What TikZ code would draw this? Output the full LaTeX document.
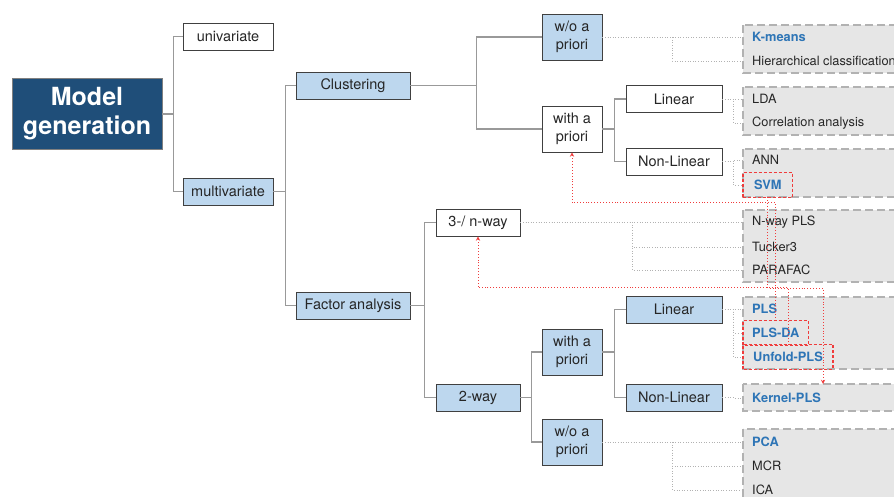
\documentclass[tikz,border=0pt]{standalone}
\usepackage{fontspec}
\setmainfont{TeX Gyre Heros}
\usetikzlibrary{arrows}
\definecolor{rootblue}{HTML}{1F4E79}
\definecolor{boxblue}{HTML}{BDD7EE}
\definecolor{keyblue}{HTML}{2E75B6}
\definecolor{grpgray}{HTML}{E6E6E6}
\definecolor{pickred}{HTML}{F03C3C}

\begin{document}
\begin{tikzpicture}[x=1pt,y=-1pt,
  box/.style={draw=black!75,line width=0.9pt,fill=white,text=black!85,align=center,inner sep=0pt,
    minimum height=27pt,font=\fontsize{14.5}{18}\selectfont},
  lit/.style={box,fill=boxblue},
  item/.style={anchor=west,inner xsep=9pt,inner ysep=0pt,minimum height=23pt,text=black!85,
    font=\fontsize{12.8}{14}\selectfont},
  key/.style={item,text=keyblue,font=\fontsize{12.8}{14}\selectfont\bfseries},
  pick/.style={draw=pickred,dash pattern=on 3pt off 2pt,line width=1.1pt},
  grp/.style={draw=black!30,fill=grpgray,line width=1.6pt,dash pattern=on 8pt off 4pt},
  fork/.style={draw=black!40,line width=1.2pt,to path={(\tikztostart.east) -- ++(#1,0) |- (\tikztotarget.west)}},
  twig/.style={draw=black!30,line width=0.6pt,dotted,to path={(\tikztostart.east) -- ++(#1,0) |- (\tikztotarget.west)}},
  link/.style={draw=pickred,line width=0.9pt,dotted,-stealth}]
  \clip (0,0) rectangle (894,497);

  \draw[grp] (743,25) rectangle (910,73);
  \draw[grp] (743,87) rectangle (910,135);
  \draw[grp] (743,149) rectangle (910,197);
  \draw[grp] (743,210) rectangle (910,282);
  \draw[grp] (743,297) rectangle (910,369);
  \draw[grp] (743,384) rectangle (910,411);
  \draw[grp] (743,429) rectangle (910,520);

  \node[box,fill=rootblue,text=white,draw=black!50,minimum width=150pt,minimum height=71pt,
    font=\fontsize{25}{29}\selectfont\bfseries] (root) at (87,114) {Model\\generation};
  \node[box,minimum width=90pt] (uni) at (228,36.5) {univariate};
  \node[lit,minimum width=90pt] (multi) at (228,191.5) {multivariate};
  \node[lit,minimum width=114pt] (clust) at (353,85.5) {Clustering};
  \node[lit,minimum width=114pt] (factor) at (353,305.5) {Factor analysis};
  \node[lit,minimum width=60pt,minimum height=46pt] (wop1) at (572,37) {w/o a\\priori};
  \node[box,minimum width=60pt,minimum height=46pt] (wap1) at (572,129) {with a\\priori};
  \node[box,minimum width=96pt] (lin1) at (674,99) {Linear};
  \node[box,minimum width=96pt] (nlin1) at (674,161.5) {Non-Linear};
  \node[box,minimum width=84pt] (nway) at (478,222.5) {3-/ n-way};
  \node[lit,minimum width=84pt] (tway) at (478,397.5) {2-way};
  \node[lit,minimum width=60pt,minimum height=46pt] (wap2) at (572,352) {with a\\priori};
  \node[lit,minimum width=60pt,minimum height=46pt] (wop2) at (572,442) {w/o a\\priori};
  \node[lit,minimum width=96pt] (lin2) at (674,309.5) {Linear};
  \node[lit,minimum width=96pt] (nlin2) at (674,397.5) {Non-Linear};

  \node[key] (kmeans) at (743,37) {K-means};
  \node[item] (hier) at (743,61) {Hierarchical classification};
  \node[item] (lda) at (743,99) {LDA};
  \node[item] (corr) at (743,123) {Correlation analysis};
  \node[item] (ann) at (743,160) {ANN};
  \node[key,inner xsep=11pt,minimum height=24pt] (svm) at (743,185) {SVM};
  \node[item] (npls) at (743,222) {N-way PLS};
  \node[item] (tucker) at (743,247) {Tucker3};
  \node[item] (parafac) at (743,270) {PARAFAC};
  \node[key] (pls) at (743,309) {PLS};
  \node[key,minimum height=24pt] (plsda) at (743,333) {PLS-DA};
  \node[key,inner xsep=10pt,minimum height=24pt] (unfold) at (743,357) {Unfold-PLS};
  \node[key] (kpls) at (743,398) {Kernel-PLS};
  \node[key] (pca) at (743,442) {PCA};
  \node[item] (mcr) at (743,466) {MCR};
  \node[item] (ica) at (743,490) {ICA};
  \coordinate (kin) at (823,384);

  \path (root) edge[fork=11] (uni) edge[fork=11] (multi)
    (multi) edge[fork=12] (clust) edge[fork=12] (factor)
    (clust) edge[fork=66] (wop1) edge[fork=66] (wap1)
    (wap1) edge[fork=12] (lin1) edge[fork=12] (nlin1)
    (factor) edge[fork=14] (nway) edge[fork=14] (tway)
    (tway) edge[fork=11] (wap2) edge[fork=11] (wop2)
    (wap2) edge[fork=12] (lin2) edge[fork=12] (nlin2);

  \path (wop1) edge[twig=70] (kmeans) edge[twig=70] (hier)
    (lin1) edge[twig=11] (lda) edge[twig=11] (corr)
    (nlin1) edge[twig=11] (ann) edge[twig=11] (svm)
    (nway) edge[twig=112] (npls) edge[twig=112] (tucker) edge[twig=112] (parafac)
    (lin2) edge[twig=11] (pls) edge[twig=11] (plsda) edge[twig=11] (unfold)
    (nlin2) edge[twig=11] (kpls)
    (wop2) edge[twig=70] (pca) edge[twig=70] (mcr) edge[twig=70] (ica);

  \foreach \n in {svm,plsda,unfold}
    \draw[pick] (\n.south west) rectangle (\n.north east);

  \draw[link] (plsda.north) -- ++(0,-118) -| (wap1.south);
  \draw[link] (unfold.north) -- ++(0,-57) -| (nway.south);
  \draw[link] (svm.south) -- ++(0,91) -| (kin);
\end{tikzpicture}
\end{document}
